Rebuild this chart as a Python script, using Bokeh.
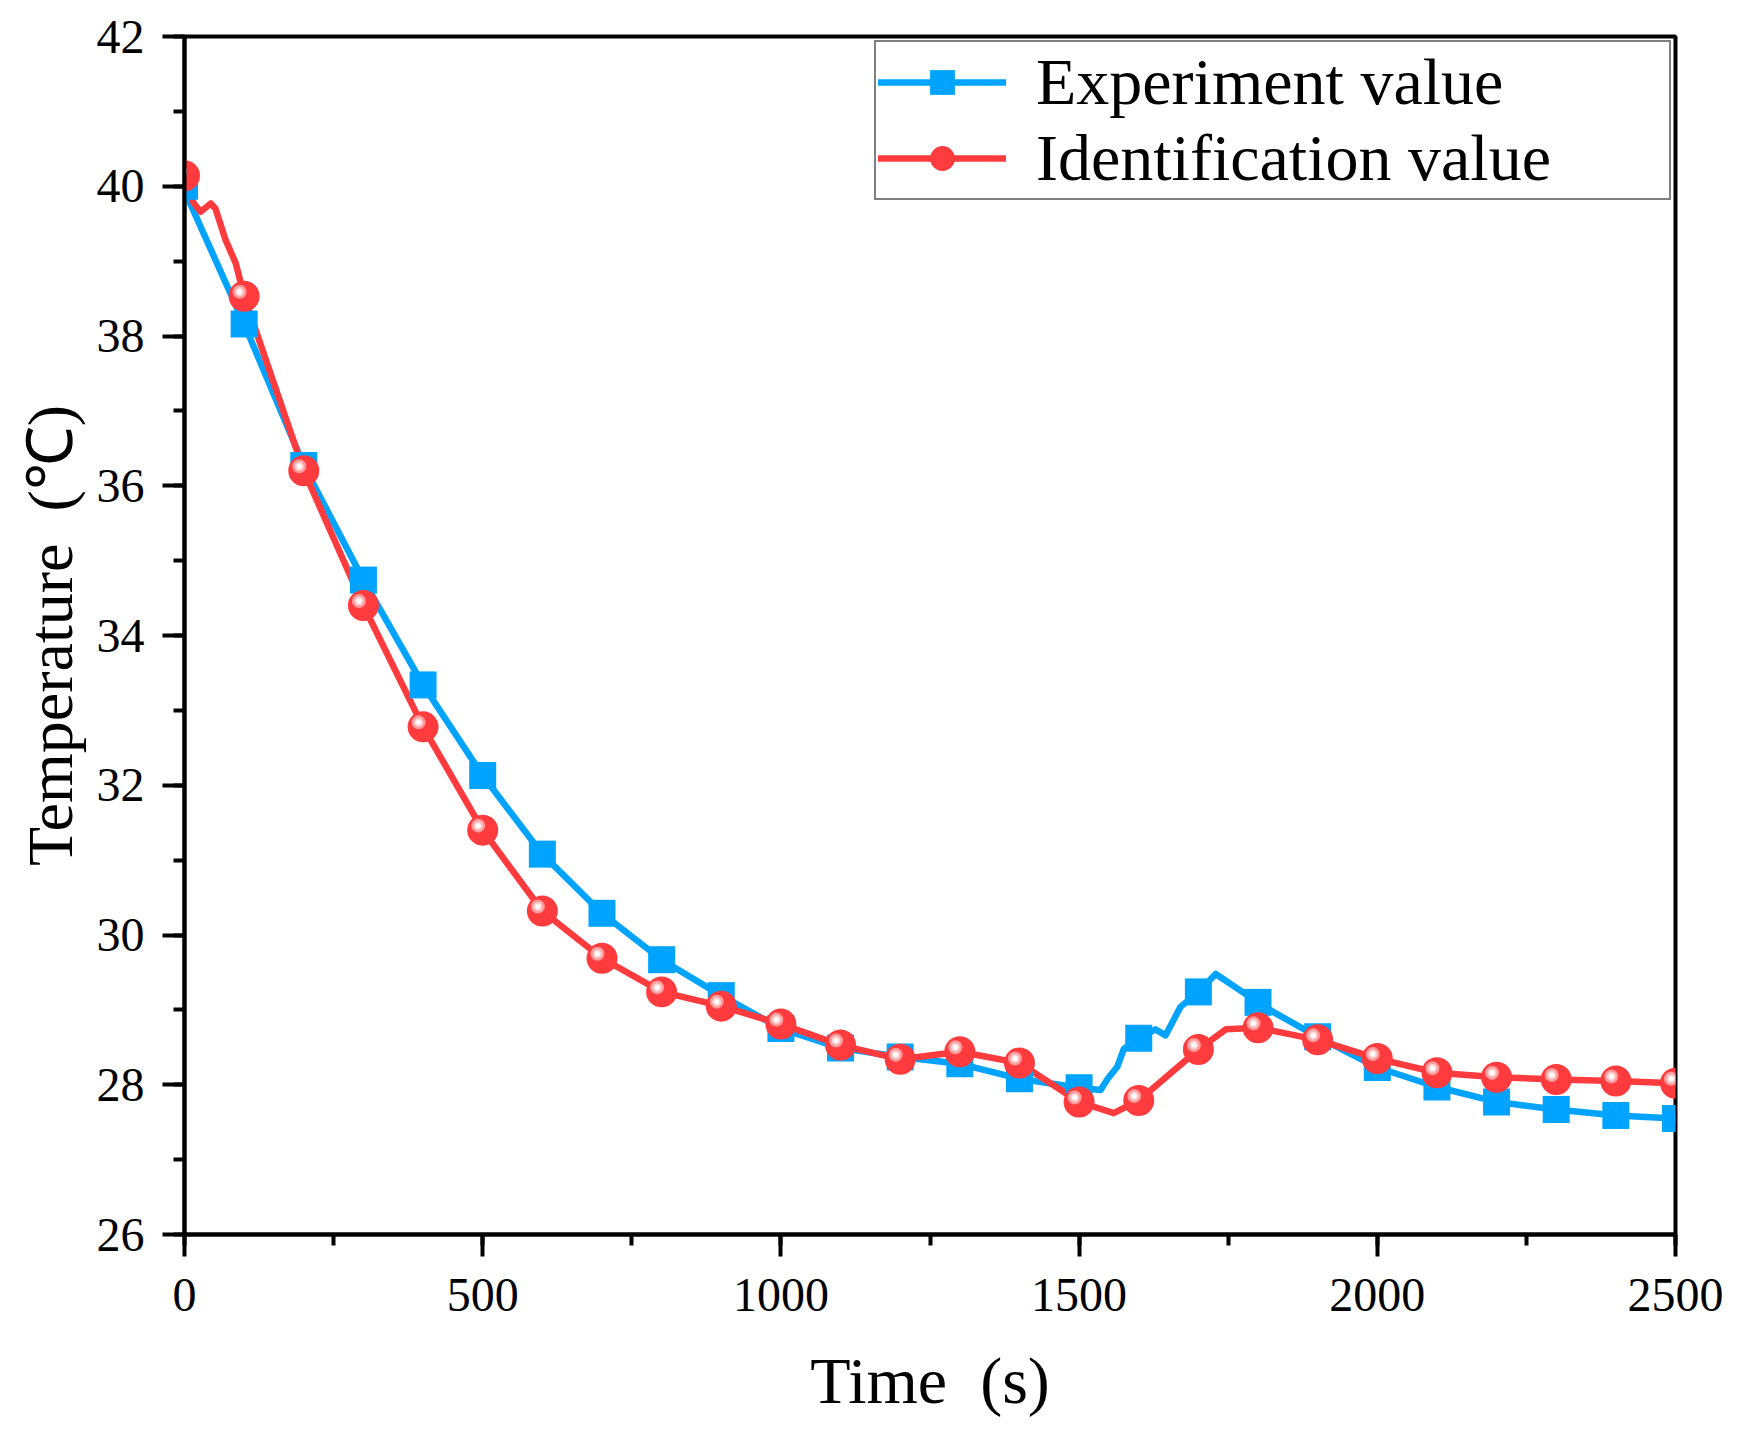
from bokeh.plotting import figure
from bokeh.models import Range1d, Legend, LegendItem, ColumnDataSource, SingleIntervalTicker
from bokeh.transform import dodge
from bokeh.embed import file_html
from bokeh.resources import INLINE

# ---- data ----
time_marks = [0, 100, 200, 300, 400, 500, 600, 700, 800, 900, 1000, 1100, 1200,
              1300, 1400, 1500, 1600, 1700, 1800, 1900, 2000, 2100, 2200, 2300, 2400, 2500]
exp_marks = [40.00, 38.16, 36.27, 34.74, 33.34, 32.13, 31.08, 30.29, 29.67, 29.19,
             28.75, 28.49, 28.37, 28.28, 28.08, 27.96, 28.62, 29.24, 29.10, 28.64,
             28.23, 27.97, 27.77, 27.67, 27.59, 27.55]
ident_marks = [40.14, 38.53, 36.20, 34.40, 32.78, 31.40, 30.32, 29.69, 29.24, 29.05,
               28.81, 28.53, 28.34, 28.44, 28.29, 27.77, 27.79, 28.47, 28.76, 28.60,
               28.35, 28.16, 28.10, 28.07, 28.05, 28.02]

exp_line_t = [0, 100, 200, 300, 400, 500, 600, 700, 800, 900, 1000, 1100, 1200, 1300,
              1400, 1500, 1536, 1548, 1564, 1575, 1600, 1628, 1645, 1670, 1700, 1729,
              1800, 1826, 1900, 2000, 2100, 2200, 2300, 2400, 2500]
exp_line_T = [39.94, 38.16, 36.27, 34.74, 33.34, 32.13, 31.08, 30.29, 29.67, 29.19,
              28.75, 28.49, 28.37, 28.28, 28.08, 27.96, 27.93, 28.08, 28.24, 28.48,
              28.62, 28.74, 28.66, 29.04, 29.24, 29.48, 29.10, 28.97, 28.64, 28.23,
              27.97, 27.77, 27.67, 27.59, 27.55]

ident_line_t = [0, 15, 27, 44, 52, 69, 86, 100, 200, 300, 400, 500, 600, 700, 800, 900,
                1000, 1100, 1200, 1300, 1400, 1500, 1558, 1600, 1700, 1746, 1800, 1838,
                1900, 2000, 2100, 2200, 2300, 2400, 2500]
ident_line_T = [40.14, 39.78, 39.66, 39.77, 39.70, 39.28, 38.97, 38.53, 36.20, 34.40,
                32.78, 31.40, 30.32, 29.69, 29.24, 29.05, 28.81, 28.53, 28.34, 28.44,
                28.29, 27.77, 27.62, 27.79, 28.47, 28.74, 28.76, 28.70, 28.60, 28.35,
                28.16, 28.10, 28.07, 28.05, 28.02]

x_ticks_interval = 500
y_ticks_interval = 2

BLUE = "#00A4FF"
RED = "#FF3B3E"
SERIF = "Liberation Serif"

FW, FH = 1491, 1198
XR = (0, 2500)
YR = (26, 42)

p = figure(frame_width=FW, frame_height=FH,
           x_range=Range1d(*XR), y_range=Range1d(*YR),
           output_backend="svg", toolbar_location=None,
           min_border_left=184, min_border_top=36,
           min_border_right=60, min_border_bottom=190,
           background_fill_color="white", border_fill_color="white")

p.grid.visible = False
p.outline_line_color = "black"
p.outline_line_width = 4
p.outline_line_alpha = 1.0

p.xaxis.ticker = SingleIntervalTicker(interval=x_ticks_interval, num_minor_ticks=2)
p.yaxis.ticker = SingleIntervalTicker(interval=y_ticks_interval, num_minor_ticks=2)

for ax in (p.xaxis, p.yaxis):
    ax.axis_line_width = 4
    ax.axis_line_color = "black"
    ax.major_tick_line_width = 4
    ax.minor_tick_line_width = 4
    ax.major_tick_line_color = "black"
    ax.minor_tick_line_color = "black"
    ax.major_tick_out = 22
    ax.major_tick_in = 0
    ax.minor_tick_out = 11
    ax.minor_tick_in = 0
    ax.major_label_text_font = SERIF
    ax.major_label_text_font_size = "48px"
    ax.major_label_text_color = "black"
    ax.axis_label_text_font = SERIF
    ax.axis_label_text_font_style = "normal"
    ax.axis_label_text_color = "black"

p.xaxis.major_label_standoff = 22
p.yaxis.major_label_standoff = 18
p.xaxis.axis_label = "Time\u2002(s)"
p.xaxis.axis_label_text_font_size = "66px"
p.xaxis.axis_label_standoff = 30
p.yaxis.axis_label = "Temperature\u2002(℃)"
p.yaxis.axis_label_text_font_size = "64px"
p.yaxis.axis_label_standoff = 8

exp_line_src = ColumnDataSource(dict(t=exp_line_t, T=exp_line_T))
ident_line_src = ColumnDataSource(dict(t=ident_line_t, T=ident_line_T))
marks_src = ColumnDataSource(dict(t=time_marks, exp=exp_marks, ident=ident_marks))

r_exp_line = p.line("t", "T", source=exp_line_src, line_color=BLUE, line_width=6.5,
                    line_join="round", line_cap="round")
r_ident_line = p.line("t", "T", source=ident_line_src, line_color=RED, line_width=6.5,
                      line_join="round", line_cap="round")

r_exp_marks = p.scatter("t", "exp", source=marks_src, marker="square", size=27,
                        fill_color=BLUE, line_color=BLUE, line_width=0)
r_ident_marks = p.scatter("t", "ident", source=marks_src, marker="circle", size=31,
                          fill_color=RED, line_color=RED, line_width=0)

# glossy highlight on the red spheres (a few pixels up-left of each centre)
dx = -4.5 * (XR[1] - XR[0]) / FW
dy = 4.5 * (YR[1] - YR[0]) / FH
p.scatter(dodge("t", dx), dodge("ident", dy), source=marks_src, marker="circle",
          size=14, fill_color="#FF9A9A", line_width=0)
p.scatter(dodge("t", dx), dodge("ident", dy), source=marks_src, marker="circle",
          size=9, fill_color="#FFD0D0", line_width=0)
p.scatter(dodge("t", dx), dodge("ident", dy), source=marks_src, marker="circle",
          size=5, fill_color="white", line_width=0)

legend = Legend(items=[
    LegendItem(label="Experiment value", renderers=[r_exp_line, r_exp_marks]),
    LegendItem(label="Identification value", renderers=[r_ident_line, r_ident_marks]),
], location="top_right")
legend.margin = 4
legend.padding = 2
legend.spacing = 0
legend.glyph_width = 128
legend.glyph_height = 62
legend.label_height = 62
legend.label_width = 631
legend.label_standoff = 30
legend.label_text_font = SERIF
legend.label_text_font_size = "66px"
legend.label_text_color = "black"
legend.border_line_color = "black"
legend.border_line_width = 2
legend.background_fill_color = "white"
legend.background_fill_alpha = 1.0
p.add_layout(legend)

open("out.html", "w").write(file_html(p, INLINE))
